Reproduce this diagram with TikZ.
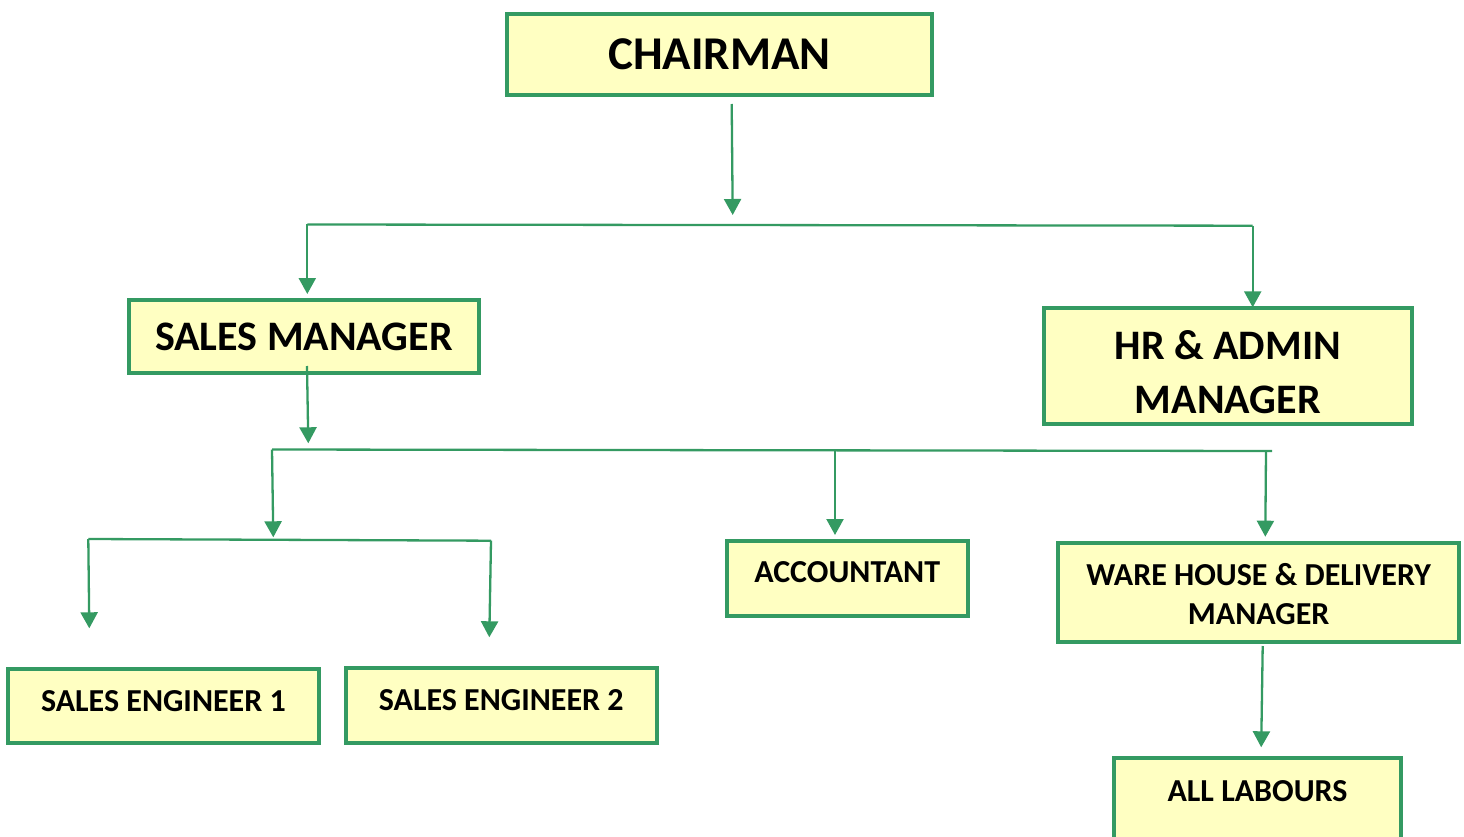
\documentclass[tikz,border=0pt]{standalone}
\usepackage{fontspec}
\setmainfont{Carlito}
\usetikzlibrary{arrows.meta}
\definecolor{orggreen}{RGB}{52,154,98}
\definecolor{boxfill}{RGB}{255,255,194}
\begin{document}
\begin{tikzpicture}[x=1pt,y=-1pt,
  box/.style={draw=orggreen, line width=4pt, fill=boxfill, inner sep=0pt, align=center},
  bigfont/.style={font=\fontsize{47}{56}\selectfont\bfseries},
  midfont/.style={font=\fontsize{42}{54}\selectfont\bfseries},
  smallfont/.style={font=\fontsize{32}{38.5}\selectfont\bfseries},
  conn/.style={draw=orggreen, line width=2.3pt},
  arr/.style={conn, -{Triangle[width=17pt,length=16pt]}}]
\useasboundingbox (0,0) rectangle (1464,837);

% boxes
\node[box, bigfont, minimum width=425.5pt, minimum height=81pt, text height=31pt, text depth=0pt] (chair) at (719.5,54.5) {CHAIRMAN};
\node[box, midfont, minimum width=350.7pt, minimum height=73pt, text height=29pt, text depth=0pt] (sm) at (303.9,336) {SALES MANAGER};
\node[box, midfont, minimum width=367.5pt, minimum height=116.7pt, text height=94.2pt, text depth=0pt] (hr) at (1227.8,365.9) {HR \& ADMIN\\MANAGER};
\node[box, smallfont, minimum width=311pt, minimum height=74pt, text height=21pt, text depth=10.2pt] (se1) at (163.4,706.1) {SALES ENGINEER 1};
\node[box, smallfont, minimum width=310.7pt, minimum height=74.7pt, text height=21pt, text depth=10pt] (se2) at (501.2,705.2) {SALES ENGINEER 2};
\node[box, smallfont, minimum width=240.7pt, minimum height=75pt, text height=21pt, text depth=12.6pt] (acc) at (847.2,578.5) {ACCOUNTANT};
\node[box, smallfont, minimum width=400.5pt, minimum height=99pt, text height=64pt, text depth=0pt] (wh) at (1258.7,592) {WARE HOUSE \& DELIVERY\\MANAGER};
\node[box, smallfont, minimum width=287.5pt, minimum height=110pt, text height=21pt, text depth=43.8pt] (al) at (1257.5,812.8) {ALL LABOURS};

% junction and end coordinates
\coordinate (c1s) at (731.7,104);
\coordinate (c1e) at (732.7,215);
\coordinate (h1L) at (307.3,224.5);
\coordinate (h1R) at (1252.7,225.7);
\coordinate (smT) at (307.3,294);
\coordinate (hrT) at (1252.7,307.3);
\coordinate (sms) at (307,366);
\coordinate (sme) at (308.3,443.3);
\coordinate (h2L) at (272,449.5);
\coordinate (h2R) at (1272,451);
\coordinate (h2a) at (835,451);
\coordinate (h2b) at (1266,451);
\coordinate (v2e) at (273.3,537.3);
\coordinate (accT) at (835,535);
\coordinate (whT) at (1265.3,536.7);
\coordinate (h3L) at (88.3,539);
\coordinate (h3R) at (491,540.7);
\coordinate (se1T) at (89.3,628.3);
\coordinate (se2T) at (489.3,637.3);
\coordinate (whs) at (1262.7,646);
\coordinate (alT) at (1261.2,747.3);

% connectors
\draw[arr] (c1s) -- (c1e);
\draw[conn] (h1L) -- (h1R);
\draw[arr] (h1L) -- (smT);
\draw[arr] (h1R) -- (hrT);
\draw[arr] (sms) -- (sme);
\draw[conn] (h2L) -- (h2R);
\draw[arr] (h2L) -- (v2e);
\draw[arr] (h2a) -- (accT);
\draw[arr] (h2b) -- (whT);
\draw[conn] (h3L) -- (h3R);
\draw[arr] (h3L) -- (se1T);
\draw[arr] (h3R) -- (se2T);
\draw[arr] (whs) -- (alT);
\end{tikzpicture}
\end{document}
